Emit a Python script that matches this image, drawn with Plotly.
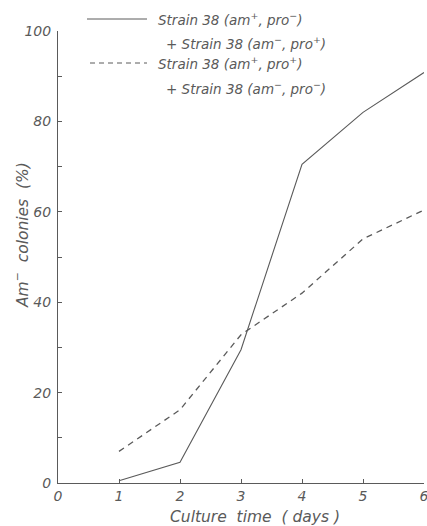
import plotly.graph_objects as go

days = [1, 2, 3, 4, 5, 6]
solid_vals = [0.5, 4.6, 29.5, 70.5, 82.0, 90.8]
dashed_vals = [7.0, 16.2, 32.8, 42.0, 54.0, 60.4]

x_ticks = [0, 1, 2, 3, 4, 5, 6]
y_ticks = [0, 10, 20, 30, 40, 50, 60, 70, 80, 90, 100]
y_ticktext = ["0", "", "20", "", "40", "", "60", "", "80", "", "100"]

legend_line1 = "Strain 38 (am<sup>+</sup>, pro<sup>−</sup>)"
legend_line1b = "+ Strain 38 (am<sup>−</sup>, pro<sup>+</sup>)"
legend_line2 = "Strain 38 (am<sup>+</sup>, pro<sup>+</sup>)"
legend_line2b = "+ Strain 38 (am<sup>−</sup>, pro<sup>−</sup>)"
x_title = "Culture  time  ( days )"
y_title = "Am<sup>−</sup>  colonies  (%)"

ink = "#5a5a5a"
font_fam = "DejaVu Sans, Open Sans, sans-serif"

fig = go.Figure()
fig.add_trace(go.Scatter(x=days, y=solid_vals, mode="lines",
                         line=dict(color=ink, width=1.1), showlegend=False,
                         cliponaxis=False))
fig.add_trace(go.Scatter(x=days, y=dashed_vals, mode="lines",
                         line=dict(color=ink, width=1.3, dash="6px,5px"), showlegend=False,
                         cliponaxis=False))

W, H = 427, 526
L, R, T, B = 58, 3, 31, 43
pw, ph = W - L - R, H - T - B

def px(xp):
    return (xp - L) / pw

def py(yp):
    return (H - B - yp) / ph

# legend samples
fig.add_shape(type="line", xref="paper", yref="paper",
              x0=px(87), x1=px(147), y0=py(19), y1=py(19),
              line=dict(color=ink, width=1))
fig.add_shape(type="line", xref="paper", yref="paper",
              x0=px(90), x1=px(147), y0=py(63), y1=py(63),
              line=dict(color=ink, width=1, dash="5px,4px"))

tfont = dict(family=font_fam, size=13.5, color=ink, style="italic")
for txt, xp, yp in [(legend_line1, 156, 19), (legend_line1b, 164, 43),
                    (legend_line2, 156, 63), (legend_line2b, 164, 88)]:
    fig.add_annotation(text=txt, xref="paper", yref="paper", x=px(xp), y=py(yp),
                       xanchor="left", yanchor="middle", showarrow=False, font=tfont)

fig.add_annotation(text=y_title, xref="paper", yref="paper", x=px(21), y=py(235),
                   xanchor="center", yanchor="middle", textangle=-90, showarrow=False,
                   font=dict(family=font_fam, size=15.5, color=ink, style="italic"))

fig.add_annotation(text=x_title, xref="paper", yref="paper", x=px(255), y=py(517),
                   xanchor="center", yanchor="middle", showarrow=False,
                   font=dict(family=font_fam, size=15.5, color=ink, style="italic"))

fig.update_layout(
    width=W, height=H,
    margin=dict(l=L, r=R, t=T, b=B, autoexpand=False),
    paper_bgcolor="white", plot_bgcolor="white",
    font=dict(family=font_fam, color=ink, size=14, style="italic"),
    xaxis=dict(range=[0, 6], tickvals=x_ticks, ticks="inside", ticklen=4,
               tickcolor=ink, showline=True, linecolor=ink, linewidth=1,
               showgrid=False, zeroline=False, ticklabeloverflow="allow",
               automargin=False,
               tickfont=dict(family=font_fam, size=14, color=ink, style="italic")),
    yaxis=dict(range=[0, 100], tickvals=y_ticks, ticktext=y_ticktext, ticks="inside",
               ticklen=4, tickcolor=ink, showline=True, linecolor=ink, linewidth=1,
               showgrid=False, zeroline=False, ticklabelstandoff=3, automargin=False,
               tickfont=dict(family=font_fam, size=14, color=ink, style="italic")),
)

fig.write_html("out.html")
